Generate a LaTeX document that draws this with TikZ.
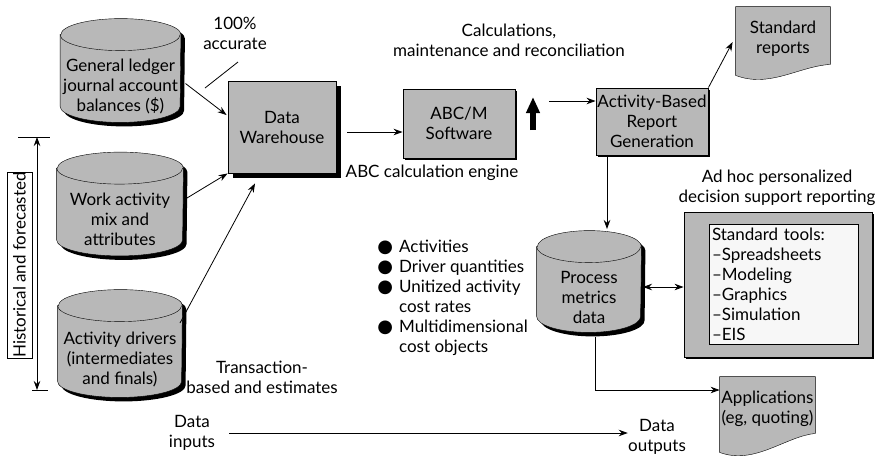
\documentclass[tikz,border=0pt]{standalone}
\usepackage{fontspec}
\setmainfont{Lato}
\newfontfamily\symfont{DejaVu Sans}
\usetikzlibrary{arrows.meta,shadows,backgrounds}

\definecolor{boxgray}{gray}{0.72}
\definecolor{paneltint}{gray}{0.97}
\newcommand{\bigbul}{{\symfont\fontsize{18}{20}\selectfont ●}}
\newcommand{\cylpad}{\rule{0pt}{44pt}}
% drum outline behind a named node: name, width
\newcommand{\drum}[2]{%
  \begin{scope}[on background layer]
    \filldraw[fill=boxgray,preaction={fill=black,transform canvas={shift={(4pt,-4pt)}}}]
      ([yshift=-16pt]#1.north west) -- ([yshift=16pt]#1.south west)
      arc[start angle=180,end angle=360,x radius=#2/2,y radius=16pt]
      -- ([yshift=-16pt]#1.north east)
      arc[start angle=0,end angle=180,x radius=#2/2,y radius=16pt] -- cycle;
    \draw ([yshift=-16pt]#1.north west) arc[start angle=180,end angle=360,x radius=#2/2,y radius=16pt];
  \end{scope}}

\begin{document}
\begin{tikzpicture}[x=1pt,y=-1pt,line width=0.8pt,
  >={Stealth[length=9pt,width=6.5pt]},
  base/.style={font=\fontsize{17}{20}\selectfont,align=center,inner sep=0pt},
  procbox/.style={base,draw,fill=boxgray,line width=0.9pt},
  thinshadow/.style={drop shadow={shadow xshift=1.5pt,shadow yshift=-1.5pt,fill=black,opacity=1}},
  deepshadow/.style={drop shadow={shadow xshift=5pt,shadow yshift=-5pt,fill=black,opacity=1}},
  store/.style={base,minimum width=122pt,minimum height=103pt},
  page/.style={base,minimum width=94pt,minimum height=64pt}]
  \useasboundingbox (0,0) rectangle (881,459);

  % data stores on the left
  \node[store,minimum width=120pt] (ledger) at (120.5,70.5) {\cylpad General ledger\\journal account\\balances (\$)};
  \drum{ledger}{120pt}
  \node[store,minimum width=126pt] (mix) at (120,204) {\cylpad Work activity\\mix and\\attributes};
  \drum{mix}{126pt}
  \node[store,minimum width=124pt,minimum height=107pt] (drivers) at (120,343.5) {\cylpad Activity drivers\\(intermediates\\and finals)};
  \drum{drivers}{124pt}

  % time span bracket
  \node[base,draw,fill=white,rotate=90,minimum width=186pt,minimum height=25pt] (horizon) at (19.5,265) {Historical and forecasted};
  \coordinate (htop) at (37,137);
  \coordinate (hbot) at (37,390);
  \draw[<->] (htop) -- (hbot);
  \draw ([xshift=-19pt]htop) -- ([xshift=13pt]htop);
  \draw ([xshift=-5pt]hbot) -- ([xshift=11pt]hbot);

  % processing chain
  \node[procbox,deepshadow,minimum width=108pt,minimum height=92pt] (warehouse) at (282,127) {Data\\Warehouse};
  \node[procbox,thinshadow,minimum width=112pt,minimum height=69pt] (abcm) at (459,123.5) {ABC/M\\Software};
  \node[procbox,thinshadow,minimum width=112pt,minimum height=67pt] (reportgen) at (652,121.5) {Activity-Based\\Report\\Generation};
  \node[store,minimum width=104pt,minimum height=101pt] (metrics) at (589,281.5) {\cylpad Process\\metrics\\data};
  \drum{metrics}{104pt}

  % reporting tools
  \node[procbox,thinshadow,minimum width=188pt,minimum height=145pt] (toolkit) at (778,284.5) {};
  \node[base,draw,fill=paneltint,align=left,minimum width=149pt,minimum height=120pt,
    text width=143pt,inner xsep=3pt] (tools) at (783.5,284)
    {Standard tools:\\–Spreadsheets\\–Modeling\\–Graphics\\–Simulation\\–EIS};

  % output pages
  \node[page] (stdrep) at (783,39) {Standard\\reports};
  \node[page,minimum width=95pt] (apps) at (767.5,409) {Applications\\(eg, quoting)};
  \begin{scope}[on background layer]
    \filldraw[fill=boxgray] (stdrep.north west) -- (stdrep.north east) -- ([yshift=7pt]stdrep.south east)
      .. controls +(-32,2) and +(34,13) .. ([yshift=-4pt]stdrep.south west) -- cycle;
    \filldraw[fill=boxgray] (apps.north west) -- (apps.north east) -- ([yshift=8pt]apps.south east)
      .. controls +(-30,3) and +(35,13) .. ([yshift=-11pt]apps.south west) -- cycle;
  \end{scope}

  % notes
  \node[base] (accurate) at (235,33) {100\%\\accurate};
  \node[base] (calcnote) at (509,40) {Calculations,\\maintenance and reconciliation};
  \node[base] (engine) at (432,173) {ABC calculation engine};
  \node[base] (adhoc) at (777,188) {Ad hoc personalized\\decision support reporting};
  \node[base] (estimates) at (262,377) {Transaction-\\based and estimates};
  \node[base] (datain) at (192,433) {Data\\inputs};
  \node[base] (dataout) at (657,437) {Data\\outputs};
  \node[base,anchor=west,align=left] (facts) at (377,298) {%
    \begin{tabular}{@{}l@{\hspace{6pt}}l@{}}
      \bigbul & Activities\\
      \bigbul & Driver quantities\\
      \bigbul & Unitized activity\\
              & cost rates\\
      \bigbul & Multidimensional\\
              & cost objects
    \end{tabular}};

  % connectors
  \coordinate (accpt) at (205,88);
  \draw ([shift={(3,29)}]accurate.center) -- (accpt);
  \draw[->] ([shift={(65,13)}]ledger.center) -- ([shift={(-1,-12)}]warehouse.west);
  \draw[->] ([shift={(67,-6)}]mix.center) -- (warehouse.south west);
  \draw[->] ([shift={(60,-20.5)}]drivers.center) -- ([shift={(-27,10)}]warehouse.south);
  \coordinate (dwout) at ([shift={(11,5)}]warehouse.east);
  \draw[->] (dwout) -- (dwout -| abcm.west);
  \coordinate (liftbase) at (533,130);
  \coordinate (lifttip) at (533,97);
  \draw[line width=6pt,-{Triangle[length=16pt,width=13pt]}] (liftbase) -- (lifttip);
  \coordinate (feed) at (549,101);
  \draw[->] (feed) -- (feed -| reportgen.west);
  \draw[->] (reportgen.north east) -- ([shift={(-3,3)}]stdrep.west);
  \coordinate (drop) at ([xshift=-45pt]reportgen.south);
  \draw[->] (drop) -- ([shift={(18,-52.5)}]metrics.center);
  \coordinate (link) at ([shift={(54,5.5)}]metrics.center);
  \draw[<->] (link) -- (link -| toolkit.west);
  \draw[->] ([shift={(6,55.5)}]metrics.center) |- ([yshift=19pt]apps.west);
  \coordinate (din) at ([xshift=14pt]datain.east);
  \draw[->] (din) -- (din -| dataout.west);
\end{tikzpicture}
\end{document}
